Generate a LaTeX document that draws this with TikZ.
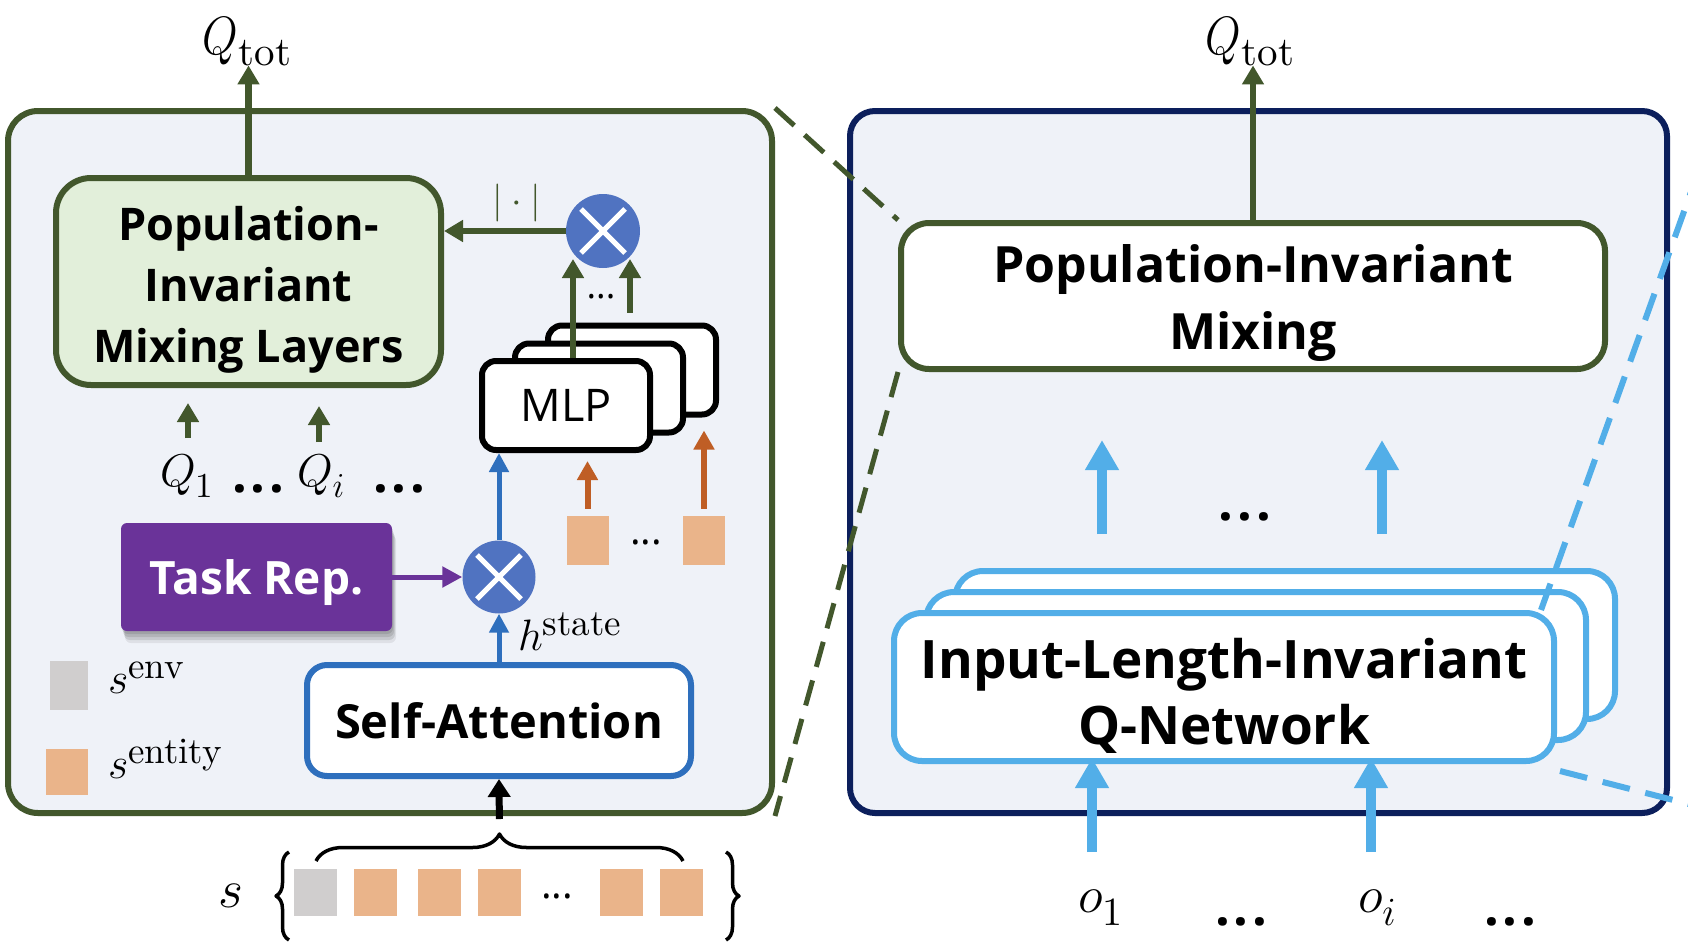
\RequirePackage{fix-cm}
\documentclass[tikz,border=0pt]{standalone}
\usepackage{graphicx}
\usepackage{fontspec}
\newfontfamily\osans{Open Sans}
\newfontfamily\lmten{lmroman10-regular.otf}
\usetikzlibrary{arrows.meta,shadows,decorations.pathreplacing,calc}
\definecolor{gdark}{HTML}{42572C}
\definecolor{glight}{HTML}{E2EFDA}
\definecolor{boxbg}{HTML}{EFF2F8}
\definecolor{navy}{HTML}{0C1F5C}
\definecolor{sablue}{HTML}{2E6FBD}
\definecolor{circ}{HTML}{5073C1}
\definecolor{tpurple}{HTML}{6A3399}
\definecolor{ofill}{HTML}{EAB48A}
\definecolor{oarrow}{HTML}{BF5E25}
\definecolor{sgray}{HTML}{D0CECE}
\definecolor{lblue}{HTML}{52AEE8}
% index helper: #1 raise, #2 size, #3 content
\newcommand\myidx[3]{\raisebox{#1}{\lmten\fontsize{#2}{#2}\selectfont #3}}
\newcommand\qtotlabel{\scalebox{0.85}[1]{\fontsize{54}{60}\selectfont$Q$}\kern1pt\myidx{-11pt}{41}{tot}}
\tikzset{
  outerbox/.style={line width=6pt, fill=boxbg, inner sep=0pt},
  lbl/.style={inner sep=0pt, outer sep=0pt},
  mul/.style={circle, fill=circ, inner sep=0pt, minimum size=74pt,
    path picture={\draw[white, line width=5pt]
      (path picture bounding box.center) +(-22,-22) -- +(22,22)
      (path picture bounding box.center) +(-22,22) -- +(22,-22);}},
  mlpbox/.style={draw=black, fill=white, line width=6pt, rounded corners=14pt,
    minimum width=168pt, minimum height=89pt, inner sep=0pt,
    font=\osans\fontsize{45}{54}\selectfont},
  qnbox/.style={draw=lblue, fill=white, line width=6pt, rounded corners=28pt,
    minimum width=660pt, minimum height=148pt, inner sep=0pt},
  sqr/.style={inner sep=0pt, minimum width=43pt, minimum height=47pt},
  bdots/.style={lbl, font=\osans\bfseries\fontsize{52}{60}\selectfont},
  sdots/.style={lbl, font=\osans\fontsize{36}{40}\selectfont},
  garr/.style={draw=gdark, line width=6.5pt, -{Triangle[length=19pt,width=21pt]}},
  barr/.style={draw=sablue, line width=5pt, -{Triangle[length=19pt,width=19pt]}},
  parr/.style={draw=tpurple, line width=5pt, -{Triangle[length=20pt,width=20pt]}},
  oarr/.style={draw=oarrow, line width=6pt, -{Triangle[length=19pt,width=20pt]}},
  karr/.style={draw=black, line width=7pt, -{Triangle[length=18pt,width=22pt]}},
  lbarr/.style={draw=lblue, line width=10pt, -{Triangle[length=30pt,width=32pt]}},
  gdash/.style={draw=gdark, line width=5pt, dash pattern=on 26pt off 14pt},
  bdash/.style={draw=lblue, line width=6pt, dash pattern=on 28pt off 16pt},
  brc/.style={draw=black, line width=3.5pt, decorate},
}
\begin{document}
\begin{tikzpicture}[x=1pt, y=-1pt, line join=round]
\useasboundingbox (0,0) rectangle (1688,948);
\fill[white] (0,0) rectangle (1688,948);

% ---------- outer boxes ----------
\node[outerbox, draw=gdark, rounded corners=30pt, minimum width=764pt, minimum height=702pt] (lbox) at (390,462) {};
\node[outerbox, draw=navy, rounded corners=25pt, minimum width=817pt, minimum height=702pt] (rbox) at (1258.5,462) {};

% ---------- left panel ----------
\node[draw=gdark, fill=glight, line width=6pt, rounded corners=35pt, minimum width=385pt, minimum height=207pt, inner sep=0pt] (mixL) at (248.5,281.5) {};
\node[lbl, align=center, font=\osans\bfseries\fontsize{45}{61}\selectfont] (mixLt) at (248.5,289.5) {Population-\\Invariant\\Mixing Layers};

\node[mul] (mulT) at (603,231) {};
\node[lbl, text=gdark, font=\fontsize{38}{44}\selectfont] (absl) at (517,203) {$|\cdot|$};

\node[mlpbox] (mlp3) at (632,370) {};
\node[mlpbox] (mlp2) at (599,388) {};
\node[mlpbox] (mlp1) at (566,405.5) {MLP};
\node[sdots] (mdots) at (601,297) {...};

\node[lbl, font=\fontsize{46}{52}\selectfont, anchor=base west] (q1) at (160,486) {$Q$\myidx{-11pt}{35}{1}};
\node[bdots, anchor=base west] (qdots1) at (232,492) {.\kern4pt.\kern4pt.};
\node[lbl, font=\fontsize{46}{52}\selectfont, anchor=base west] (qi) at (297,486) {$Q$\raisebox{-11pt}{\fontsize{35}{35}\selectfont$i$}};
\node[bdots, anchor=base west] (qdots2) at (373,492) {.\kern4pt.\kern4pt.};

\node[fill=tpurple, rounded corners=6pt, minimum width=271pt, minimum height=108pt, inner sep=0pt,
  drop shadow={shadow xshift=1pt, shadow yshift=-3pt, opacity=0.10, fill=black},
  drop shadow={shadow xshift=2pt, shadow yshift=-6pt, opacity=0.10, fill=black},
  drop shadow={shadow xshift=3pt, shadow yshift=-9pt, opacity=0.10, fill=black},
  drop shadow={shadow xshift=4pt, shadow yshift=-12pt, opacity=0.07, fill=black},
  text=white, text depth=0pt, font=\osans\bfseries\fontsize{46}{55}\selectfont] (task) at (256.5,577) {Task Rep.};
\node[mul, minimum size=73pt] (mulB) at (499,577) {};

\node[sqr, fill=ofill, minimum width=42pt, minimum height=49pt] (osqA) at (587.5,540.5) {};
\node[sqr, fill=ofill, minimum width=42pt, minimum height=49pt] (osqB) at (704,540.5) {};
\node[sdots, font=\osans\fontsize{40}{44}\selectfont] (odots) at (646,542) {...};

\node[lbl, font=\fontsize{44}{50}\selectfont, anchor=base west] (hst) at (518,650) {$h$\myidx{15pt}{37}{state}};

\node[sqr, fill=sgray, minimum width=38pt, minimum height=49pt] (legG) at (69,685.5) {};
\node[sqr, fill=ofill, minimum width=42pt, minimum height=46pt] (legO) at (67,772) {};
\node[lbl, font=\fontsize{44}{50}\selectfont, anchor=base west] (lenv) at (108,693) {$s$\myidx{15pt}{37}{env}};
\node[lbl, font=\fontsize{44}{50}\selectfont, anchor=base west] (lent) at (108,778) {$s$\myidx{15pt}{37}{entity}};

\node[draw=sablue, fill=white, line width=6pt, rounded corners=20pt, minimum width=384pt, minimum height=111pt, inner sep=0pt,
  font=\osans\bfseries\fontsize{47}{56}\selectfont] (sa) at (499,720.5) {Self-Attention};

% ---------- state row ----------
\node[lbl, font=\fontsize{54}{60}\selectfont, anchor=base west] (slab) at (218,907) {$s$};
\node[sqr, fill=sgray] (r0) at (315,892.5) {};
\node[sqr, fill=ofill] (r1) at (375.5,892.5) {};
\node[sqr, fill=ofill] (r2) at (439,892.5) {};
\node[sqr, fill=ofill] (r3) at (499,892.5) {};
\node[sdots, font=\osans\fontsize{40}{44}\selectfont] (rdots) at (557,896) {...};
\node[sqr, fill=ofill] (r4) at (621.5,892.5) {};
\node[sqr, fill=ofill] (r5) at (681.5,892.5) {};
\draw[brc, decoration={brace, amplitude=27pt}] (316,861) -- (683,861);
\draw[brc, decoration={brace, amplitude=13pt}] (289,940) -- (289,852);
\draw[brc, decoration={brace, amplitude=13pt}] (726,852) -- (726,940);
\coordinate (braceTip) at (499.5,834);

% ---------- right panel ----------
\node[draw=gdark, fill=white, line width=6pt, rounded corners=28pt, minimum width=704pt, minimum height=146pt, inner sep=0pt] (pimR) at (1253,296) {};
\node[lbl, align=center, font=\osans\bfseries\fontsize{50}{67}\selectfont] (pimRt) at (1253,303.5) {Population-Invariant\\Mixing};

\node[qnbox] (qn3) at (1285,645) {};
\node[qnbox] (qn2) at (1256,666) {};
\node[qnbox] (qn1) at (1224,687) {};
\node[lbl, align=center, font=\osans\bfseries\fontsize{53}{66}\selectfont] (qn1t) at (1224,695.5) {Input-Length-Invariant\\Q-Network};

\node[bdots] (udots) at (1245,517) {.\kern4pt.\kern4pt.};
\node[lbl, font=\fontsize{52}{58}\selectfont, anchor=base west] (o1) at (1078,912) {$o$\myidx{-13pt}{40}{1}};
\node[bdots, anchor=base west] (odots1) at (1215,925) {.\kern4pt.\kern4pt.};
\node[lbl, font=\fontsize{52}{58}\selectfont, anchor=base west] (oi) at (1358,912) {$o$\raisebox{-13pt}{\fontsize{40}{40}\selectfont$i$}};
\node[bdots, anchor=base west] (odots2) at (1484,925) {.\kern4pt.\kern4pt.};

% Q_tot labels
\node[lbl, anchor=base west] (qtotL) at (202,54) {\qtotlabel};
\node[lbl, anchor=base west] (qtotR) at (1205,54) {\qtotlabel};

% ---------- arrows ----------
\draw[garr] (mixL.north) -- (mixL.north |- qtotL.south);
\draw[garr] (pimR.north) -- (pimR.north |- qtotR.south);
\draw[garr] (mulT.west) -- (mulT.west -| mixL.east);
\coordinate (tL) at ($(mulT.center)+(-30,28)$);
\coordinate (tR) at ($(mulT.center)+(27,28)$);
\draw[garr] (tL |- mlp1.north) -- (tL);
\draw[garr, shorten <=10pt] (tR |- mlp3.north) -- (tR);
\coordinate (qa1) at (188,438);
\coordinate (qa2) at (319,442);
\draw[garr, shorten >=15pt] (qa1) -- (qa1 |- mixL.south);
\draw[garr, shorten >=18pt] (qa2) -- (qa2 |- mixL.south);

\draw[barr] (sa.north -| mulB) -- (mulB.south);
\draw[barr] (mulB.north) -- (mulB.north |- mlp1.south);
\draw[parr] (task.east) -- (task.east -| mulB.west);
\draw[oarr, shorten <=7pt, shorten >=8pt] (osqA.north) -- (osqA.north |- mlp1.south);
\draw[oarr, shorten <=7pt, shorten >=13pt] (osqB.north) -- (osqB.north |- mlp3.south);
\draw[karr, shorten <=15pt] (braceTip) -- (sa.south);

\coordinate (u1) at (1102,534);
\coordinate (u2) at (1382,534);
\draw[lbarr, shorten >=68pt] (u1) -- (u1 |- pimR.south);
\draw[lbarr, shorten >=68pt] (u2) -- (u2 |- pimR.south);
\coordinate (i1) at (1092,852);
\coordinate (i2) at (1371,852);
\draw[lbarr, shorten >=-6pt] (i1) -- (i1 |- qn1.south);
\draw[lbarr, shorten >=-6pt] (i2) -- (i2 |- qn1.south);

% ---------- zoom lines ----------
\begin{scope}
\clip (0,0) rectangle (1688,948);
\draw[gdash] (lbox.north east) -- (pimR.north west);
\draw[gdash] (pimR.south west) -- (lbox.south east);
\coordinate (bd1) at (1724,100);
\coordinate (bd2) at (1720,812);
\draw[bdash] ($(qn1.north east)+(-16,0)$) -- (bd1);
\draw[bdash] ($(qn1.south east)+(3,7)$) -- (bd2);
\end{scope}
\end{tikzpicture}
\end{document}
